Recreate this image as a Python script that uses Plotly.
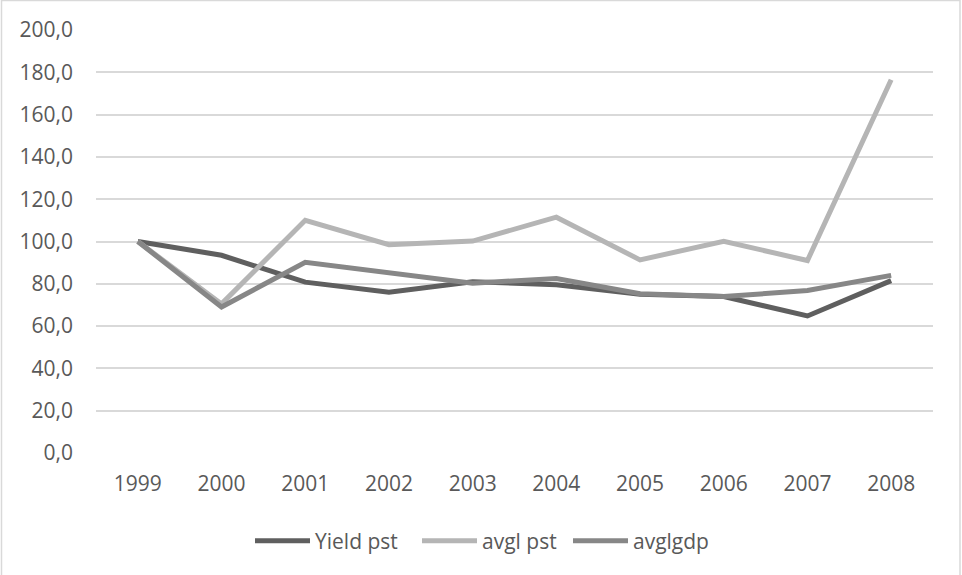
import plotly.graph_objects as go

years = ["1999", "2000", "2001", "2002", "2003", "2004", "2005", "2006", "2007", "2008"]
yield_pst = [100.0, 93.5, 80.8, 76.0, 81.0, 79.5, 75.1, 74.0, 64.8, 81.5]
avgl_pst = [100.0, 70.5, 110.0, 98.5, 100.2, 111.5, 91.3, 100.1, 91.0, 176.5]
avglgdp = [100.0, 69.0, 90.2, 85.5, 80.3, 82.5, 75.3, 74.0, 76.8, 84.0]
y_ticks = [0, 20, 40, 60, 80, 100, 120, 140, 160, 180, 200]
y_tick_text = [f"{v},0" for v in y_ticks]

series = [
    ("Yield pst", yield_pst, "#5f5f5f", "legend"),
    ("avgl pst", avgl_pst, "#b5b5b5", "legend2"),
    ("avglgdp", avglgdp, "#878787", "legend3"),
]

fig = go.Figure()
for name, vals, color, leg in series:
    fig.add_trace(go.Scatter(
        x=years, y=vals, name=name, mode="lines",
        line=dict(color=color, width=5), legend=leg,
    ))

text_color = "#595959"
plot_l, plot_w = 96, 837


def legend_at(px):
    return dict(
        orientation="h", x=(px - plot_l) / plot_w, xanchor="left",
        y=-0.208, yanchor="middle", bgcolor="rgba(0,0,0,0)",
        font=dict(size=21, color=text_color), itemwidth=55,
    )


fig.update_layout(
    width=962, height=575,
    margin=dict(l=96, r=29, t=30, b=122),
    paper_bgcolor="white", plot_bgcolor="white",
    font=dict(family="Open Sans", size=21, color=text_color),
    showlegend=True,
    legend=legend_at(250),
    legend2=legend_at(417),
    legend3=legend_at(568),
    xaxis=dict(
        type="category", range=[-0.5, 9.5], showgrid=False, zeroline=False,
        showline=False, ticks="", ticklabelstandoff=16,
    ),
    yaxis=dict(
        range=[0, 200], tickvals=y_ticks, ticktext=y_tick_text,
        showgrid=True, gridcolor="#d9d9d9", gridwidth=1.5,
        zeroline=False, showline=False, ticks="", ticklabelstandoff=22,
    ),
    shapes=[
        dict(type="rect", xref="paper", yref="paper",
             x0=(1.5 - 96) / 837, x1=(960 - 96) / 837,
             y0=(453 - 580) / 423, y1=(453 - 0.5) / 423,
             line=dict(color="#d9d9d9", width=1.5), fillcolor="rgba(0,0,0,0)",
             layer="below"),
    ],
)

fig.write_html("out.html")
